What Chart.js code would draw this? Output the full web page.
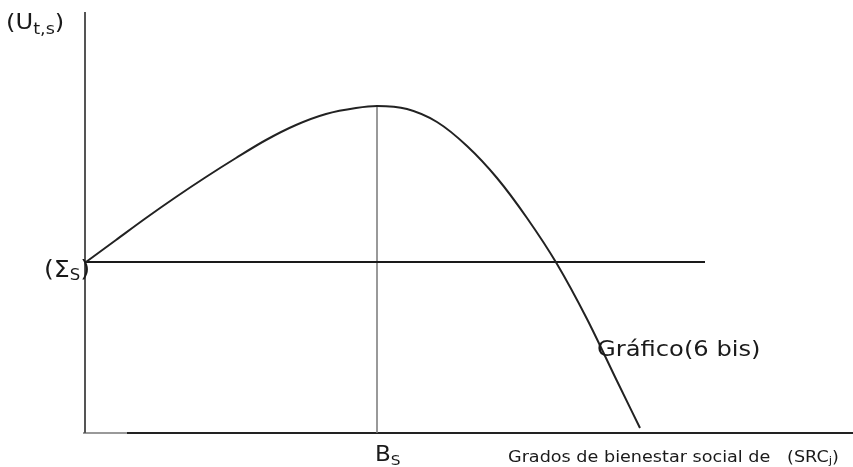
<!DOCTYPE html>
<html>
<head>
<meta charset="utf-8">
<script src="https://cdn.jsdelivr.net/npm/chart.js@4"></script>
<style>
html,body{margin:0;padding:0;background:#fff;}
#wrap{width:853px;height:467px;position:relative;}
</style>
</head>
<body>
<div id="wrap"><canvas id="c" width="853" height="467"></canvas></div>
<script>
// Curve (utility vs. social welfare degree)
const curveX = [1, 31, 61, 91, 121, 151, 181, 211, 241, 271, 292, 322, 352, 382, 412, 442, 472, 502, 532, 555];
const curveY = [171, 193, 215, 236, 256, 275, 293, 308, 319, 325, 327, 324, 311, 287, 255, 215, 169, 114, 52, 5];
// Reference levels
const sigmaLevel = 171;     // (Σs)
const sigmaLineEnd = 620;   // horizontal line end
const peakX = 292;          // B_S
const peakY = 327;
const axisTop = 421;
const axisRight = 768;
const greyAxisEnd = 42;

const pts = (xs, ys) => xs.map((x, i) => ({x: x, y: ys[i]}));

const labelPlugin = {
  id: 'labels',
  afterDraw(chart) {
    const ctx = chart.ctx;
    const sx = chart.scales.x, sy = chart.scales.y;
    ctx.save();
    ctx.fillStyle = '#1a1a1a';
    ctx.textBaseline = 'alphabetic';
    const F = 'DejaVu Sans, Verdana, sans-serif';
    const SX = 1.1;
    function run(parts, x) {
      for (const p of parts) {
        ctx.font = p.size + 'px ' + F;
        ctx.save();
        ctx.translate(x, p.y);
        ctx.scale(SX, 1);
        ctx.fillText(p.t, 0, 0);
        ctx.restore();
        x += ctx.measureText(p.t).width * SX;
      }
    }
    // (U_t,s)
    run([{t:'(U', size:22, y:29}, {t:'t,s', size:16, y:34}, {t:')', size:22, y:29}], 6);
    // (Σs)
    const ySig = sy.getPixelForValue(sigmaLevel);
    run([{t:'(Σ', size:23, y:ySig+15}, {t:'S', size:15, y:ySig+18}, {t:')', size:23, y:ySig+15}], 44);
    // B_S
    const xB = sx.getPixelForValue(peakX);
    run([{t:'B', size:21, y:461}, {t:'S', size:14, y:465}], xB - 2);
    // Gráfico(6 bis)
    run([{t:'Gráfico(6 bis)', size:22, y:356}], 597);
    // axis title
    run([{t:'Grados de bienestar social de   (SRC', size:16, y:462}, {t:'j', size:11, y:464}, {t:')', size:16, y:462}], 508);
    ctx.restore();
  }
};

new Chart(document.getElementById('c'), {
  type: 'line',
  data: {
    datasets: [
      {data: pts(curveX, curveY), borderColor: '#222', borderWidth: 2, pointRadius: 0, cubicInterpolationMode: 'monotone', fill: false, clip: false},
      {data: pts([0, sigmaLineEnd], [sigmaLevel, sigmaLevel]), borderColor: '#1a1a1a', borderWidth: 2, pointRadius: 0, clip: false},
      {data: pts([peakX, peakX], [0, peakY]), borderColor: '#777', borderWidth: 1.5, pointRadius: 0, clip: false},
      {data: pts([0, 0], [0, axisTop]), borderColor: '#555', borderWidth: 2, pointRadius: 0, clip: false},
      {data: pts([-2, greyAxisEnd], [0, 0]), borderColor: '#999', borderWidth: 2, pointRadius: 0, clip: false},
      {data: pts([greyAxisEnd, axisRight], [0, 0]), borderColor: '#222', borderWidth: 2, pointRadius: 0, clip: false}
    ]
  },
  options: {
    responsive: false,
    animation: false,
    layout: {padding: {left: 83, right: 0, top: 0, bottom: 34}},
    plugins: {legend: {display: false}, tooltip: {enabled: false}},
    scales: {
      x: {type: 'linear', min: -2, max: axisRight, display: false},
      y: {type: 'linear', min: 0, max: 433, display: false}
    }
  },
  plugins: [labelPlugin]
});
</script>
</body>
</html>
